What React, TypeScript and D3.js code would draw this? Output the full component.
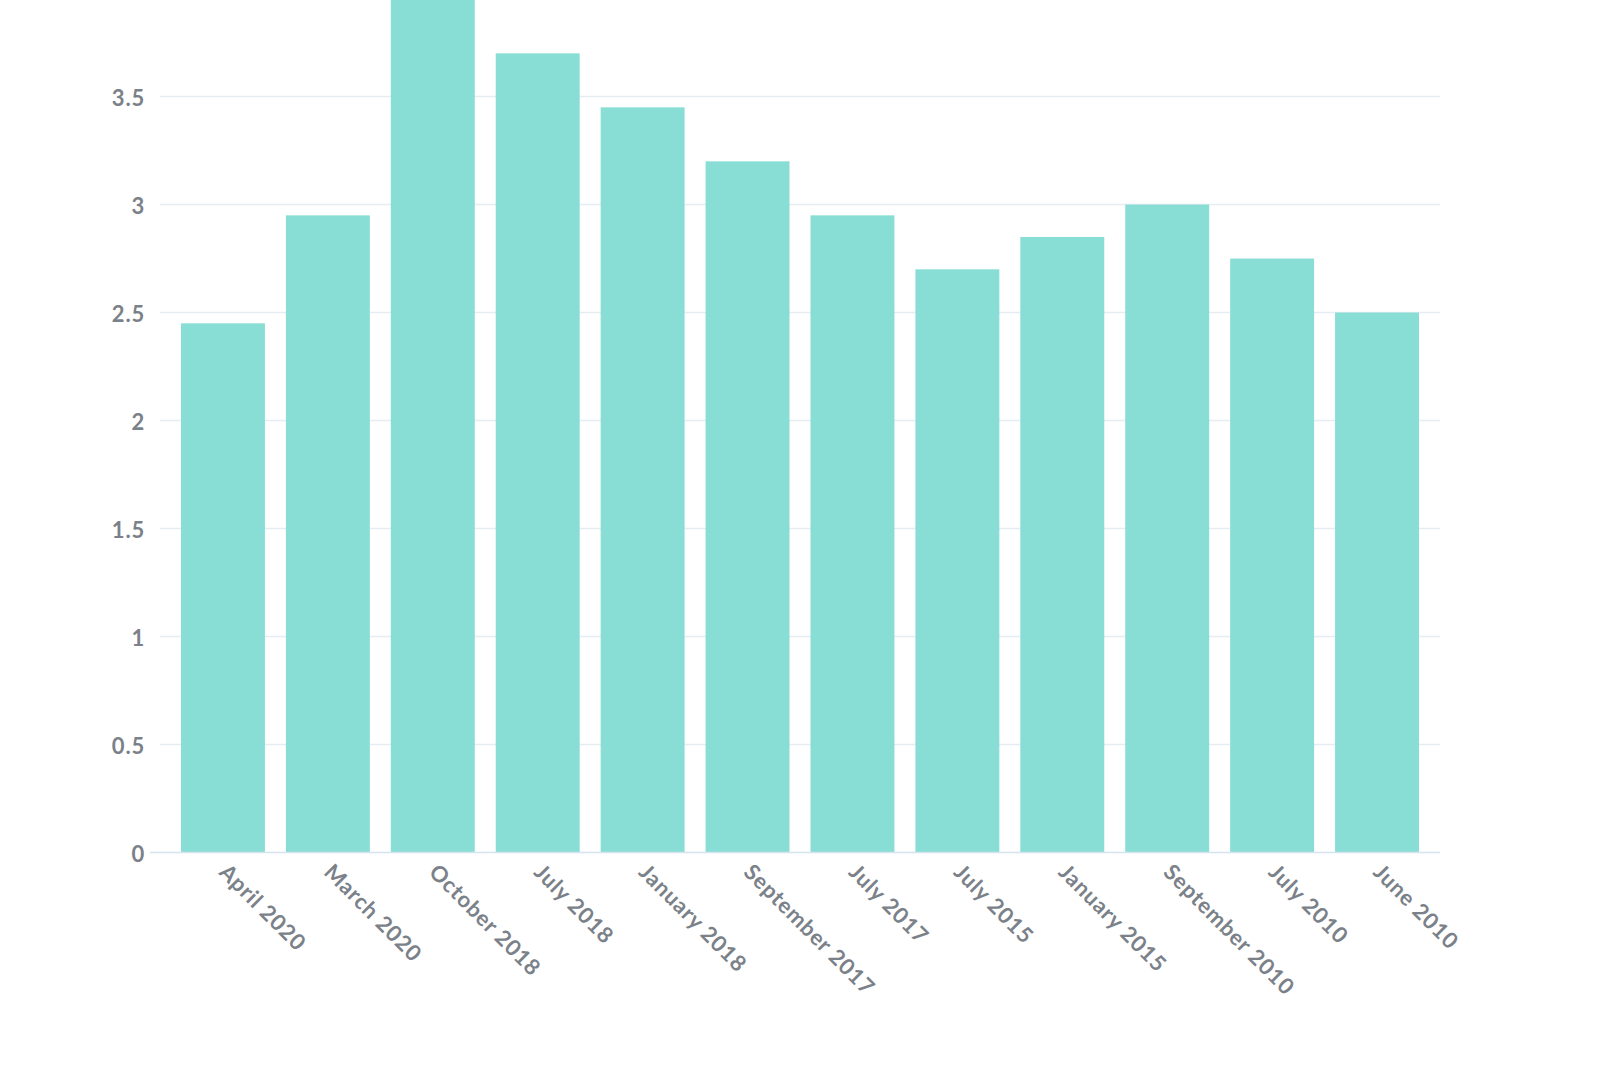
import { useEffect, useRef } from "react";
import * as d3 from "d3";

const categories = [
  "April 2020",
  "March 2020",
  "October 2018",
  "July 2018",
  "January 2018",
  "September 2017",
  "July 2017",
  "July 2015",
  "January 2015",
  "September 2010",
  "July 2010",
  "June 2010",
];
const values = [2.45, 2.95, 4.0, 3.7, 3.45, 3.2, 2.95, 2.7, 2.85, 3.0, 2.75, 2.5];
const yTicks = [0, 0.5, 1, 1.5, 2, 2.5, 3, 3.5];

const width = 1600;
const height = 1066;

export default function App() {
  const svgRef = useRef<SVGSVGElement | null>(null);

  useEffect(() => {
    document.body.style.margin = "0";
    const svg = d3.select(svgRef.current);
    svg.selectAll("*").remove();

    const font = "Lato, 'Open Sans', sans-serif";
    const textColor = "#7b8189";

    // plot area: zero at 852.5, 0.5 step = 108px
    const y = d3.scaleLinear().domain([0, 3.947]).range([852.5, 0]);
    const x = d3
      .scaleBand<string>()
      .domain(categories)
      .range([160, 1440])
      .paddingInner(0.2)
      .paddingOuter(0.2);

    // gridlines
    svg
      .append("g")
      .selectAll("line")
      .data(yTicks.filter((t) => t > 0))
      .join("line")
      .attr("x1", 160)
      .attr("x2", 1440)
      .attr("y1", (d) => y(d))
      .attr("y2", (d) => y(d))
      .attr("stroke", "#e5ecf2")
      .attr("stroke-width", 1.5);

    // bars
    svg
      .append("g")
      .selectAll("rect")
      .data(values)
      .join("rect")
      .attr("x", (_, i) => x(categories[i])!)
      .attr("width", x.bandwidth())
      .attr("y", (d) => y(d))
      .attr("height", (d) => y(0) - y(d))
      .attr("fill", "#88ddd4");

    // baseline
    svg
      .append("line")
      .attr("x1", 150)
      .attr("x2", 1440)
      .attr("y1", y(0))
      .attr("y2", y(0))
      .attr("stroke", "#d6e4ef")
      .attr("stroke-width", 1.5);

    // y labels
    svg
      .append("g")
      .selectAll("text")
      .data(yTicks)
      .join("text")
      .attr("x", 145)
      .attr("y", (d) => y(d) + 1.5)
      .attr("dy", "0.35em")
      .attr("text-anchor", "end")
      .style("font-family", font)
      .style("font-weight", 700)
      .style("font-size", "22px")
      .style("letter-spacing", "0.8px")
      .style("fill", textColor)
      .text((d) => String(d));

    // x labels rotated 45deg
    svg
      .append("g")
      .selectAll("text")
      .data(categories)
      .join("text")
      .attr(
        "transform",
        (d) => `translate(${x(d)! + x.bandwidth() / 2 - 5},${y(0) + 21}) rotate(45)`
      )
      .attr("text-anchor", "start")
      .style("font-family", font)
      .style("font-weight", 700)
      .style("font-size", "22px")
      .style("letter-spacing", "0.8px")
      .style("fill", textColor)
      .text((d) => d);
  }, []);

  return (
    <svg
      ref={svgRef}
      width={width}
      height={height}
      style={{ display: "block", backgroundColor: "#ffffff" }}
    />
  );
}
